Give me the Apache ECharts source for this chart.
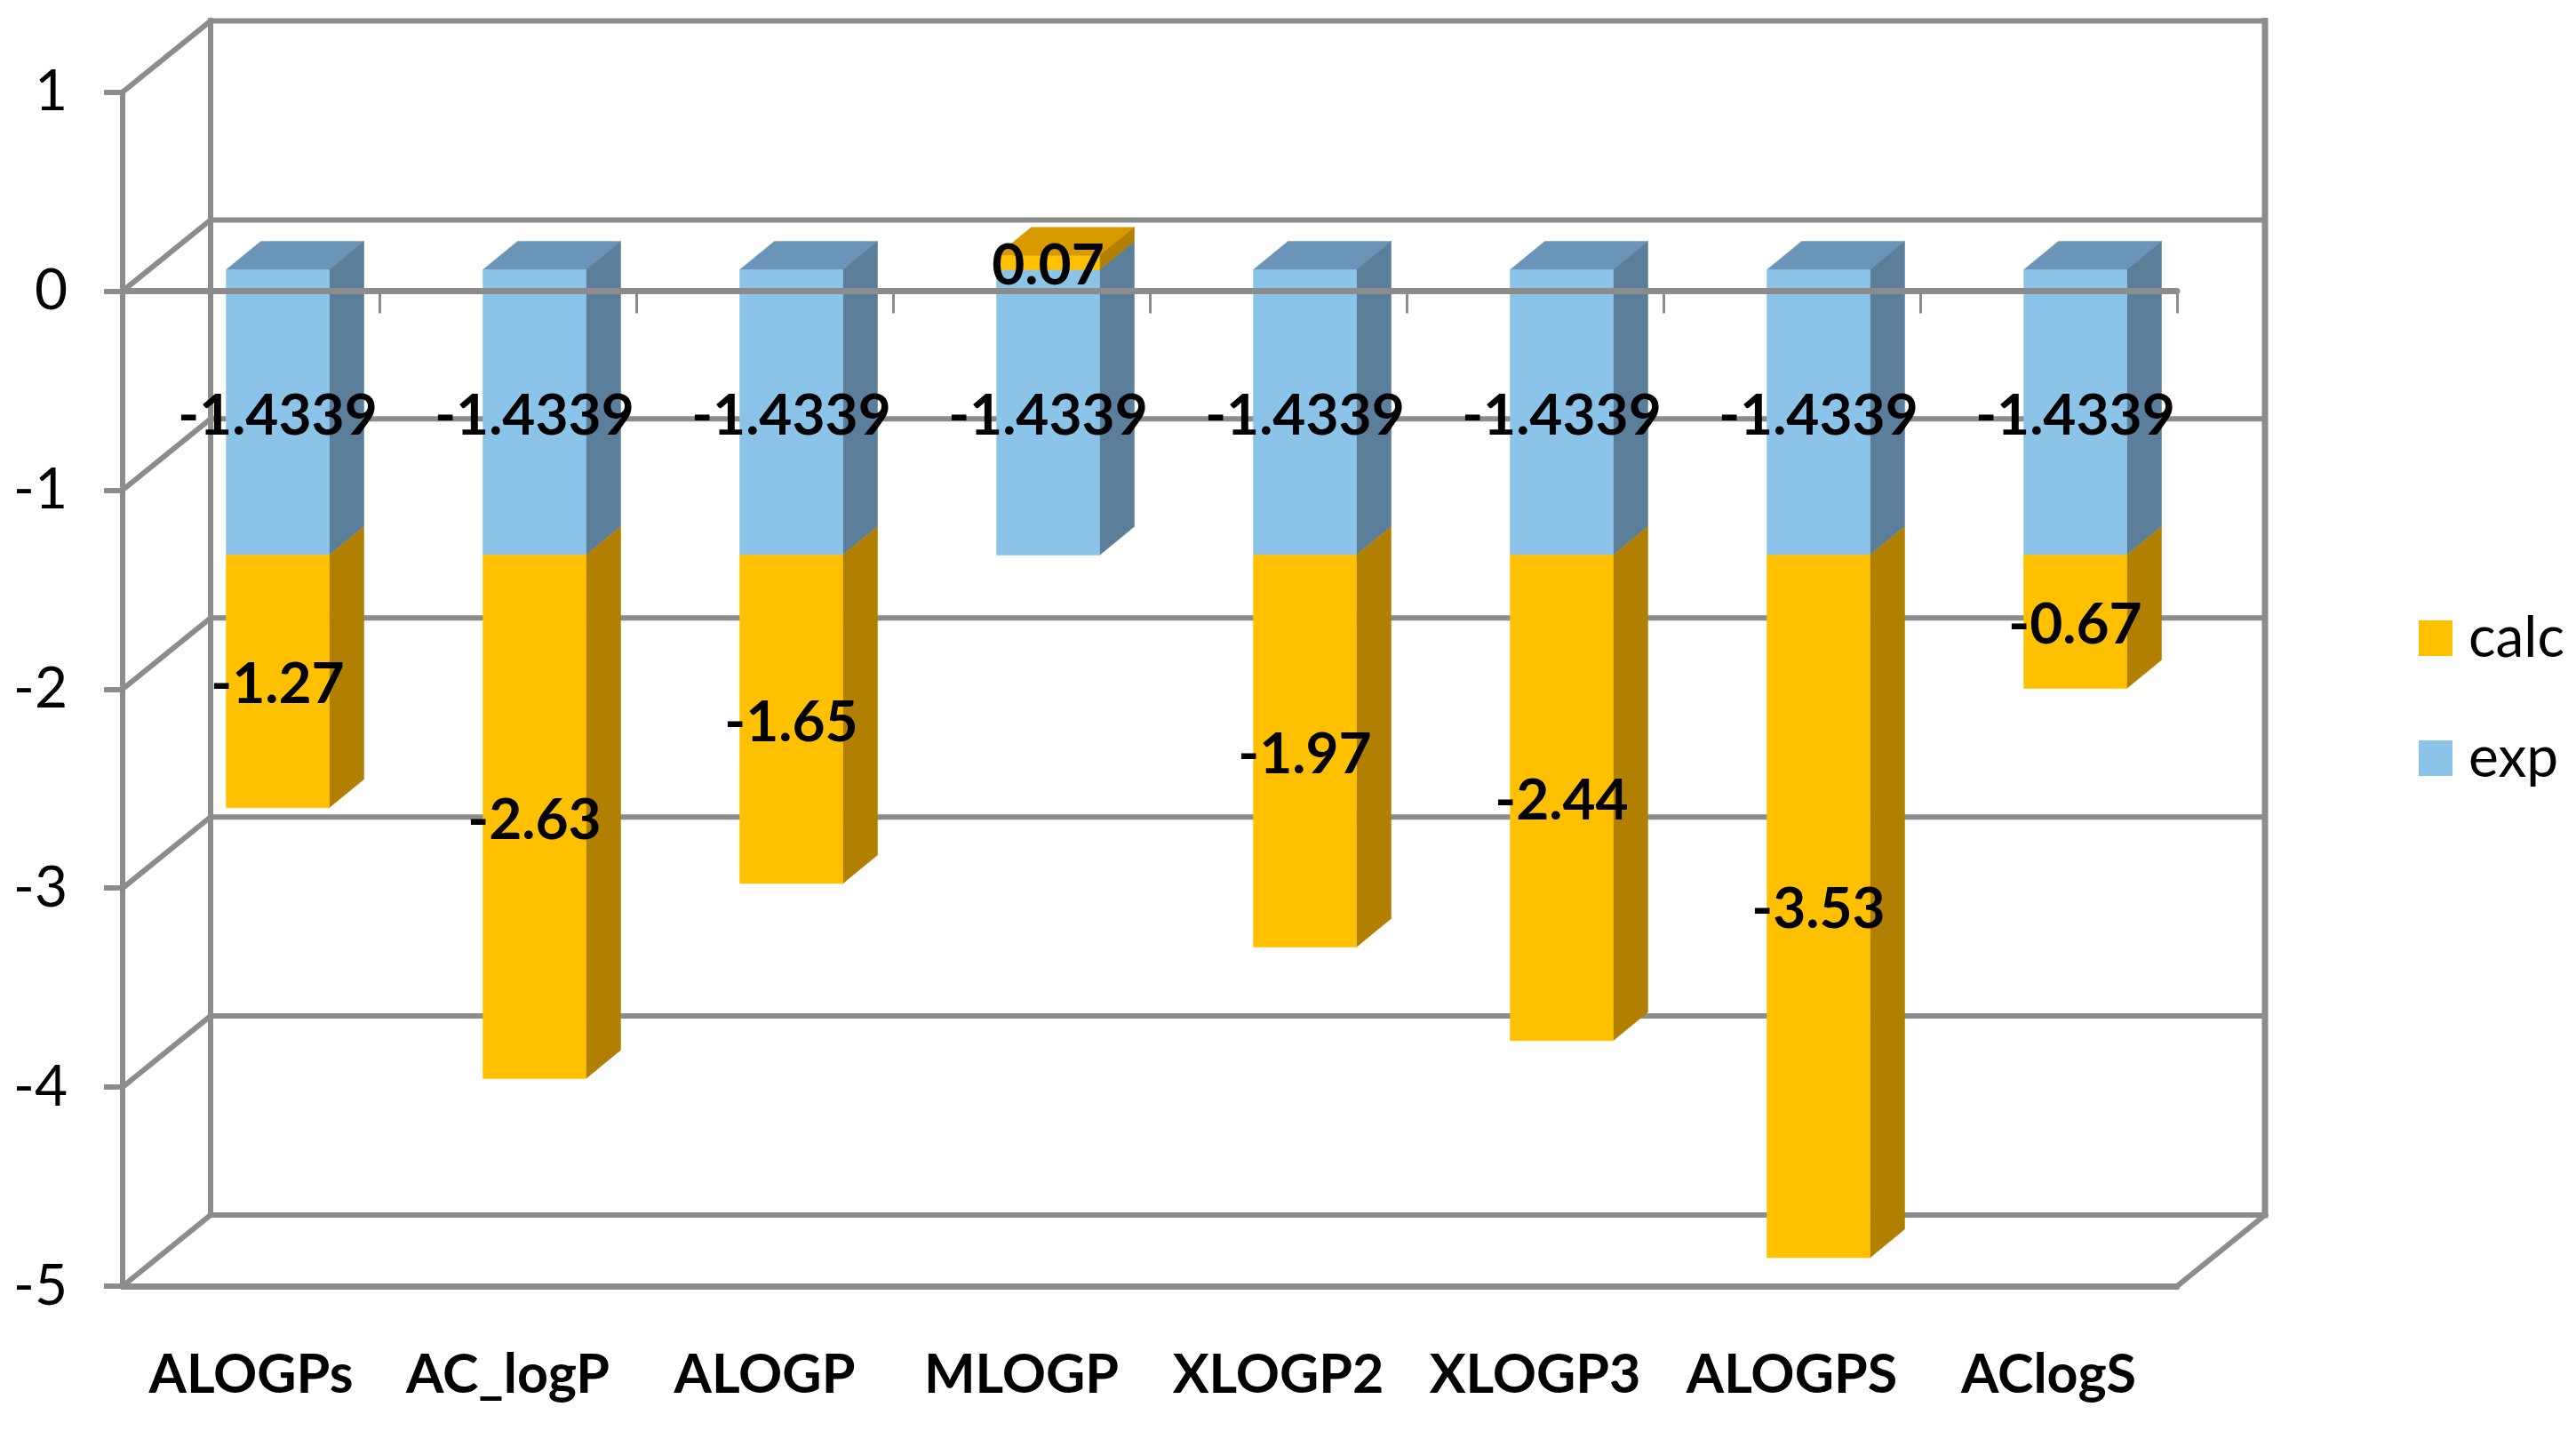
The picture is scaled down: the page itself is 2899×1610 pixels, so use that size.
<!DOCTYPE html>
<html>
<head>
<meta charset="utf-8">
<style>html,body{margin:0;padding:0;background:#fff}#chart{width:2899px;height:1610px}</style>
<script src="https://cdn.jsdelivr.net/npm/echarts@6/dist/echarts.min.js"></script>
</head>
<body>
<div id="chart"></div>
<script>
const categories = ['ALOGPs','AC_logP','ALOGP','MLOGP','XLOGP2','XLOGP3','ALOGPS','AClogS'];
const expValues = [-1.4339,-1.4339,-1.4339,-1.4339,-1.4339,-1.4339,-1.4339,-1.4339];
const calcValues = [-1.27,-2.63,-1.65,0.07,-1.97,-2.44,-3.53,-0.67];
const valueTicks = [1,0,-1,-2,-3,-4,-5];

const FONT = 'Lato';
const WALL = '#8c8c8c';
const WALL_DX = 99, WALL_DY = -80;
const BAR_W = 116, BAR_DX = 30, BAR_DY = -24, SIDE_DX = 39, SIDE_DY = -32;

function barItem(colors, labelText) {
  return function (params, api) {
    const i = api.value(0), from = api.value(1), to = api.value(2);
    const center = api.coord([i, 0])[0];
    const x0 = center + BAR_DX - BAR_W / 2, x1 = x0 + BAR_W;
    const a = api.coord([i, from])[1] + BAR_DY, b = api.coord([i, to])[1] + BAR_DY;
    const yTop = Math.min(a, b), yBot = Math.max(a, b);
    const poly = (points, fill) => ({ type: 'polygon', shape: { points }, style: { fill, stroke: fill, lineWidth: 0.5 } });
    const children = [];
    if (Math.max(from, to) >= 0) {
      children.push(poly([[x0, yTop], [x1, yTop], [x1 + SIDE_DX, yTop + SIDE_DY], [x0 + SIDE_DX, yTop + SIDE_DY]], colors.top));
    }
    children.push(
      poly([[x1, yTop], [x1 + SIDE_DX, yTop + SIDE_DY], [x1 + SIDE_DX, yBot + SIDE_DY], [x1, yBot]], colors.side),
      poly([[x0, yTop], [x1, yTop], [x1, yBot], [x0, yBot]], colors.front),
      { type: 'text', z2: 50, style: { text: labelText(api), x: (x0 + x1) / 2, y: (yTop + yBot) / 2 + 4,
        align: 'center', verticalAlign: 'middle', fill: '#000', font: 'bold 64px ' + FONT } }
    );
    return { type: 'group', children };
  };
}

function wallItem(params, api) {
  const v = api.value(0);
  const cs = params.coordSys;
  const left = cs.x, right = cs.x + cs.width;
  const y = api.coord([0, v])[1];
  const line = (x1, y1, x2, y2, w) => ({ type: 'line', shape: { x1, y1, x2, y2 },
    style: { stroke: WALL, lineWidth: w, lineCap: 'square' } });
  const children = [
    line(left, y, left + WALL_DX, y + WALL_DY, 6),
    line(left + WALL_DX, y + WALL_DY, right + WALL_DX, y + WALL_DY, 6)
  ];
  if (v === valueTicks[0]) {
    const yLow = api.coord([0, valueTicks[valueTicks.length - 1]])[1];
    children.push(line(left + WALL_DX, y + WALL_DY, left + WALL_DX, yLow + WALL_DY, 6));
    children.push(line(right + WALL_DX, y + WALL_DY, right + WALL_DX, yLow + WALL_DY, 7));
    children.push(line(right, yLow, right + WALL_DX, yLow + WALL_DY, 6));
  }
  return { type: 'group', children };
}

const expData = categories.map((c, i) => [i, 0, expValues[i], expValues[i]]);
const calcData = categories.map((c, i) => {
  const base = calcValues[i] < 0 ? expValues[i] : 0;
  return [i, base, base + calcValues[i], calcValues[i]];
});

const chart = echarts.init(document.getElementById('chart'));
chart.setOption({
  animation: false,
  backgroundColor: '#fff',
  grid: { left: 138, right: 449, top: 103.5, bottom: 163 },
  legend: {
    data: ['calc', 'exp'], orient: 'vertical', left: 2717, top: 681, itemWidth: 38, itemHeight: 40, itemGap: 71,
    icon: 'rect', textStyle: { fontFamily: FONT, fontSize: 64, color: '#000', padding: [0, 0, 0, 13] }
  },
  xAxis: [
    { type: 'category', data: categories, position: 'bottom',
      axisLine: { onZero: false, lineStyle: { color: WALL, width: 7 } },
      axisTick: { show: false }, splitLine: { show: false },
      axisLabel: { margin: 70, interval: 0, fontFamily: FONT, fontWeight: 'bold', fontSize: 61, color: '#000' } },
    { type: 'category', data: categories, position: 'bottom', z: 10,
      axisLine: { onZero: true, lineStyle: { color: WALL, width: 7 } },
      axisTick: { show: true, length: 25, lineStyle: { color: WALL, width: 3 } },
      axisLabel: { show: false }, splitLine: { show: false } }
  ],
  yAxis: {
    type: 'value', min: -5, max: 1, interval: 1,
    axisLine: { show: true, lineStyle: { color: WALL, width: 6 } },
    axisTick: { show: true, length: 21, lineStyle: { color: WALL, width: 6 } },
    splitLine: { show: false },
    axisLabel: { margin: 62, fontFamily: FONT, fontSize: 64, color: '#000', padding: [5, 0, 0, 0] }
  },
  series: [
    { type: 'custom', name: 'walls', silent: true, z: 1, coordinateSystem: 'cartesian2d',
      renderItem: wallItem, encode: { x: 1, y: 0 }, clip: false,
      data: valueTicks.map(v => [v, 0]) },
    { type: 'custom', name: 'exp', z: 3, coordinateSystem: 'cartesian2d',
      itemStyle: { color: '#8cc3e9' }, clip: false,
      encode: { x: 0, y: [1, 2] }, data: expData,
      renderItem: barItem({ front: '#8cc3e9', side: '#5b7f9b', top: '#6a94b8' }, api => String(api.value(3))) },
    { type: 'custom', name: 'calc', z: 4, coordinateSystem: 'cartesian2d',
      itemStyle: { color: '#ffc000' }, clip: false,
      encode: { x: 0, y: [1, 2] }, data: calcData,
      renderItem: barItem({ front: '#ffc000', side: '#b28000', top: '#d99a00' }, api => String(api.value(3))) }
  ]
});
</script>
</body>
</html>
